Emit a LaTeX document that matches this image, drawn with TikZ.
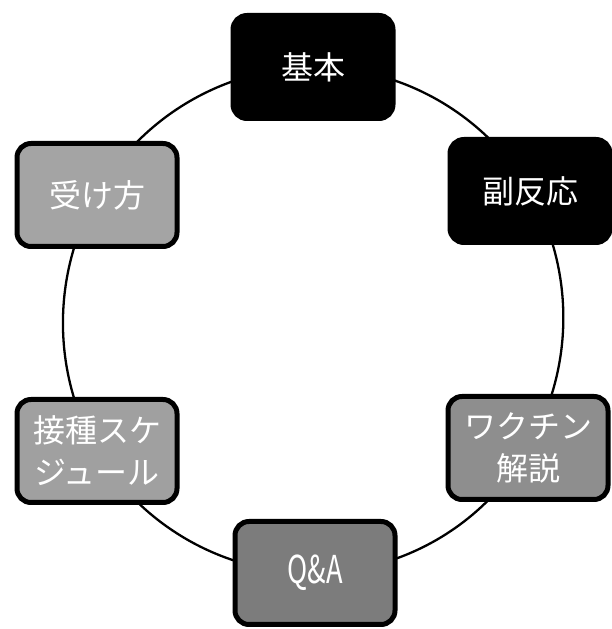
\documentclass[tikz,border=0pt]{standalone}
\usepackage{fontspec}
\newfontfamily\jp{Noto Sans CJK JP}
\usetikzlibrary{backgrounds}
\definecolor{greyA}{HTML}{A4A4A4}
\definecolor{greyB}{HTML}{A0A0A0}
\definecolor{greyC}{HTML}{8E8E8E}
\definecolor{greyD}{HTML}{7C7C7C}
\begin{document}
\begin{tikzpicture}[x=1pt,y=1pt,
  box/.style={draw=black, line width=5pt, rounded corners=14pt,
    minimum width=160pt, minimum height=103pt, inner sep=2pt,
    text=white, align=center, font=\jp\fontsize{32}{42}\selectfont},
  ring/.style={line width=2.3pt, bend left=30, looseness=0.91}]
\useasboundingbox (0,0) rectangle (611,629);
\node[box, fill=black] (kihon) at (313,562) {基本};
\node[box, fill=black] (fuku) at (530,438) {副反応};
\node[box, fill=greyC] (wakuchin) at (528,181) {ワクチン\\解説};
\node[box, fill=greyD] (qa) at (315,56) {\scalebox{0.85}[1.2]{Q\&A}};
\node[box, fill=greyB] (sesshu) at (97,178) {接種スケ\\ジュール};
\node[box, fill=greyA] (ukekata) at (97,434) {受け方};
\begin{scope}[on background layer]
\draw[ring] (kihon.center) to (fuku.center);
\draw[ring] (fuku.center) to (wakuchin.center);
\draw[ring] (wakuchin.center) to (qa.center);
\draw[ring] (qa.center) to (sesshu.center);
\draw[ring] (sesshu.center) to (ukekata.center);
\draw[ring] (ukekata.center) to (kihon.center);
\end{scope}
\end{tikzpicture}
\end{document}
